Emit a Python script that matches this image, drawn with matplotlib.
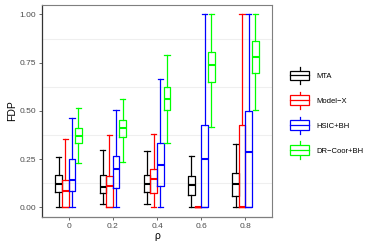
import matplotlib
matplotlib.use("Agg")
import matplotlib.pyplot as plt
from matplotlib.legend_handler import HandlerBase
from matplotlib.lines import Line2D
from matplotlib.patches import Rectangle

plt.rcParams['font.family'] = ['Liberation Sans', 'DejaVu Sans']

rho_labels = ["0", "0.2", "0.4", "0.6", "0.8"]
methods = ["MTA", "Model\u2212X", "HSIC+BH", "DR\u2212Coor+BH"]
colors = ["#000000", "#FF0000", "#0000FF", "#00FF00"]

# per method: lists over rho of (whislo, q1, med, q3, whishi)
mta_lo = [0.0, 0.017, 0.017, 0.0, 0.0]
mta_q1 = [0.079, 0.076, 0.079, 0.064, 0.059]
mta_med = [0.119, 0.107, 0.122, 0.114, 0.121]
mta_q3 = [0.167, 0.167, 0.167, 0.164, 0.176]
mta_hi = [0.262, 0.295, 0.290, 0.267, 0.326]

mx_lo = [0.0, 0.0, 0.0, 0.0, 0.0]
mx_q1 = [0.0, 0.0, 0.072, 0.0, 0.0]
mx_med = [0.083, 0.110, 0.145, 0.0, 0.0]
mx_q3 = [0.143, 0.162, 0.198, 0.0, 0.426]
mx_hi = [0.352, 0.374, 0.379, 0.0, 1.0]

hs_lo = [0.0, 0.0, 0.0, 0.0, 0.0]
hs_q1 = [0.083, 0.098, 0.110, 0.0, 0.0]
hs_med = [0.143, 0.200, 0.217, 0.250, 0.286]
hs_q3 = [0.248, 0.267, 0.333, 0.428, 0.500]
hs_hi = [0.464, 0.502, 0.667, 1.0, 1.0]

dr_lo = [0.231, 0.234, 0.334, 0.417, 0.502]
dr_q1 = [0.334, 0.362, 0.502, 0.647, 0.697]
dr_med = [0.372, 0.410, 0.559, 0.736, 0.781]
dr_q3 = [0.412, 0.454, 0.622, 0.803, 0.862]
dr_hi = [0.516, 0.559, 0.788, 1.0, 1.0]

series = [
    (mta_lo, mta_q1, mta_med, mta_q3, mta_hi),
    (mx_lo, mx_q1, mx_med, mx_q3, mx_hi),
    (hs_lo, hs_q1, hs_med, hs_q3, hs_hi),
    (dr_lo, dr_q1, dr_med, dr_q3, dr_hi),
]

fig = plt.figure(figsize=(3.74, 2.49), dpi=100)
ax = fig.add_axes([0.1123, 0.1285, 0.6150, 0.8525])

bw = 0.15
offsets = [-0.225, -0.075, 0.075, 0.225]
lw = 0.9
for m, (lo, q1, med, q3, hi) in enumerate(series):
    stats = []
    for i in range(len(rho_labels)):
        stats.append(dict(whislo=lo[i], q1=q1[i], med=med[i], q3=q3[i],
                          whishi=hi[i], fliers=[]))
    pos = [i + 1 + offsets[m] for i in range(len(rho_labels))]
    c = colors[m]
    ax.bxp(stats, positions=pos, widths=bw, capwidths=0.12, showfliers=False,
           boxprops=dict(color=c, linewidth=lw),
           medianprops=dict(color=c, linewidth=1.5),
           whiskerprops=dict(color=c, linewidth=lw),
           capprops=dict(color=c, linewidth=lw),
           manage_ticks=False, zorder=3)

ax.set_xlim(0.4, 5.6)
ax.set_ylim(-0.05, 1.05)
ax.set_xticks(range(1, 6))
ax.set_xticklabels(rho_labels)
ax.set_yticks([0, 0.25, 0.5, 0.75, 1.0])
ax.set_yticklabels(["0.00", "0.25", "0.50", "0.75", "1.00"])
for yv in [0.125, 0.375, 0.625, 0.875]:
    ax.axhline(yv, color="#EFEFEF", linewidth=0.8, zorder=0)

ax.tick_params(axis="both", labelsize=6.0, colors="#4D4D4D", length=2.5,
               width=0.6, pad=1.5)
for s in ["top", "right"]:
    ax.spines[s].set_color("#7F7F7F")
    ax.spines[s].set_linewidth(0.8)
ax.spines["left"].set_color("#333333")
ax.spines["bottom"].set_color("#7F7F7F")
ax.spines["left"].set_linewidth(0.9)
ax.spines["bottom"].set_linewidth(0.9)

ax.set_xlabel("\u03c1", fontsize=7.5, labelpad=1)
ax.set_ylabel("FDP", fontsize=7.5, labelpad=2)


class BoxHandler(HandlerBase):
    def create_artists(self, legend, orig_handle, xdescent, ydescent,
                       width, height, fontsize, trans):
        c = orig_handle.get_color()
        x0 = -xdescent
        y0 = -ydescent
        bx = x0
        bwid = width
        bh = height * 1.4
        by = y0 + height / 2 - bh / 2
        rect = Rectangle((bx, by), bwid, bh, facecolor="white",
                         edgecolor=c, linewidth=lw, transform=trans)
        med = Line2D([bx, bx + bwid], [y0 + height / 2] * 2, color=c,
                     linewidth=lw, transform=trans)
        cx = bx + bwid / 2
        w1 = Line2D([cx, cx], [by + bh, by + bh + height * 0.55], color=c,
                    linewidth=lw, transform=trans)
        w2 = Line2D([cx, cx], [by, by - height * 0.55], color=c,
                    linewidth=lw, transform=trans)
        return [w1, w2, rect, med]


handles = [Line2D([], [], color=c) for c in colors]
leg = fig.legend(handles, methods, handler_map={Line2D: BoxHandler()},
                 loc="center left", bbox_to_anchor=(290 / 374, 0.545),
                 frameon=False, fontsize=5.5, handlelength=2.5,
                 handleheight=1.0, labelspacing=2.2, handletextpad=1.0,
                 borderaxespad=0, borderpad=0)

fig.savefig("out.png", dpi=100)
